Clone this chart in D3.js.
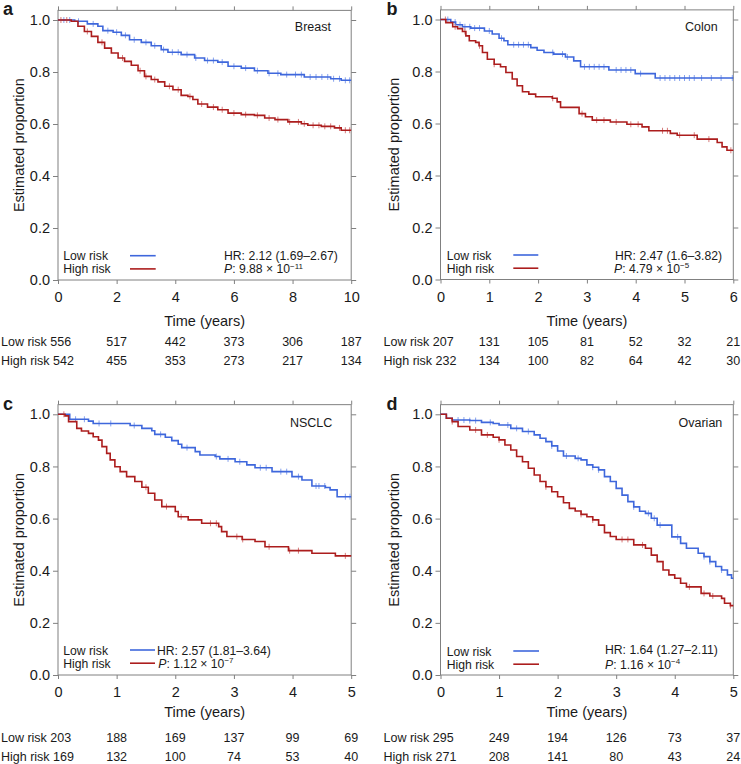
<!DOCTYPE html>
<html><head><meta charset="utf-8">
<script src="https://cdn.jsdelivr.net/npm/d3@7"></script>
<style>
body{margin:0;background:#fff}
svg{display:block}
text{font-family:"Liberation Sans",Arial,Helvetica,sans-serif;fill:#1a1a1a}
</style>
</head><body>
<svg id="chart" width="741" height="764"></svg>
<script>
// ---------------- DATA ----------------
const yTickValues = [0, 0.2, 0.4, 0.6, 0.8, 1.0];
const seriesNames = ["Low risk", "High risk"];

// Breast
const breastXTicks = [0, 2, 4, 6, 8, 10];
const breastLow = [[0,1],[0.57,0.995],[1.0,0.985],[1.36,0.976],[1.53,0.959],[1.88,0.953],[2.16,0.941],[2.44,0.924],[2.84,0.914],[3.18,0.901],[3.52,0.886],[3.75,0.876],[4.2,0.867],[4.66,0.854],[5.0,0.844],[5.45,0.838],[5.8,0.822],[6.25,0.815],[6.7,0.805],[7.16,0.795],[7.6,0.79],[8.4,0.781],[9.3,0.774],[9.66,0.768],[10,0.768]];
const breastHigh = [[0,1],[0.45,0.995],[0.68,0.976],[0.9,0.956],[1.14,0.937],[1.36,0.914],[1.59,0.892],[1.82,0.873],[2.05,0.854],[2.27,0.841],[2.5,0.826],[2.73,0.805],[2.95,0.783],[3.18,0.771],[3.41,0.762],[3.64,0.745],[3.92,0.732],[4.2,0.71],[4.43,0.706],[4.6,0.694],[4.77,0.677],[5.1,0.665],[5.45,0.655],[5.8,0.642],[6.25,0.636],[6.7,0.633],[7.05,0.623],[7.4,0.617],[7.84,0.608],[8.3,0.601],[8.52,0.595],[8.98,0.591],[9.43,0.585],[9.66,0.576],[10,0.576]];
const breastLowCens = [0.2,0.4,0.7,1.2,1.7,2.0,2.3,2.6,3.0,3.3,3.6,3.9,4.1,4.4,4.7,5.1,5.3,5.6,6.0,6.4,6.8,7.2,7.5,7.8,8.1,8.3,8.6,8.8,9.0,9.2,9.4,9.6,9.8,9.95];
const breastHighCens = [0.1,0.3,1.0,1.5,2.2,2.8,3.0,3.3,3.8,4.1,4.5,4.9,5.3,5.6,6.0,6.4,6.8,7.2,7.5,7.9,8.2,8.4,8.7,8.9,9.1,9.3,9.6,9.8,9.95];
const breastRiskLow = [556, 517, 442, 373, 306, 187];
const breastRiskHigh = [542, 455, 353, 273, 217, 134];

// Colon
const colonXTicks = [0, 1, 2, 3, 4, 5, 6];
const colonLow = [[0,1],[0.21,0.99],[0.31,0.98],[0.45,0.972],[0.62,0.967],[0.9,0.956],[1.06,0.944],[1.2,0.928],[1.3,0.918],[1.38,0.903],[1.85,0.892],[1.98,0.882],[2.12,0.873],[2.32,0.867],[2.56,0.856],[2.73,0.841],[2.87,0.818],[3.45,0.806],[3.99,0.792],[4.4,0.775],[6,0.775]];
const colonHigh = [[0,1],[0.11,0.988],[0.25,0.972],[0.35,0.965],[0.45,0.954],[0.52,0.937],[0.59,0.918],[0.72,0.912],[0.79,0.899],[0.86,0.873],[0.96,0.847],[1.1,0.828],[1.23,0.818],[1.34,0.796],[1.47,0.771],[1.57,0.745],[1.68,0.722],[1.81,0.713],[1.95,0.703],[2.29,0.697],[2.39,0.683],[2.46,0.662],[2.84,0.638],[2.97,0.626],[3.11,0.613],[3.48,0.606],[3.82,0.597],[4.13,0.587],[4.27,0.572],[4.71,0.562],[4.85,0.555],[5.26,0.54],[5.67,0.527],[5.77,0.51],[5.87,0.497],[6,0.497]];
const colonLowCens = [0.15,0.3,0.4,0.5,0.6,0.7,0.8,1.0,1.25,1.5,1.6,1.7,1.8,2.3,2.5,2.6,2.95,3.05,3.15,3.25,3.35,3.6,3.7,3.8,3.9,4.1,4.5,4.6,4.7,4.8,4.9,5.0,5.1,5.2,5.35,5.55,5.75,5.98];
const colonHighCens = [0.1,0.3,0.5,0.8,1.1,2.3,2.9,3.2,3.35,3.6,3.9,4.05,4.55,4.65,4.9,5.2,5.5,5.95];
const colonRiskLow = [207, 131, 105, 81, 52, 32, 21];
const colonRiskHigh = [232, 134, 100, 82, 64, 42, 30];

// NSCLC
const nsclcXTicks = [0, 1, 2, 3, 4, 5];
const nsclcLow = [[0,1],[0.2,0.981],[0.52,0.974],[0.6,0.965],[1.23,0.957],[1.43,0.946],[1.6,0.937],[1.65,0.923],[1.83,0.912],[1.94,0.899],[2.05,0.885],[2.11,0.872],[2.34,0.857],[2.42,0.844],[2.68,0.838],[2.76,0.829],[3.02,0.818],[3.22,0.806],[3.36,0.795],[3.65,0.78],[3.99,0.761],[4.16,0.748],[4.33,0.725],[4.56,0.719],[4.64,0.71],[4.76,0.684],[5,0.684]];
const nsclcHigh = [[0,1],[0.12,0.994],[0.18,0.972],[0.32,0.946],[0.4,0.936],[0.52,0.927],[0.6,0.914],[0.69,0.901],[0.75,0.876],[0.83,0.85],[0.89,0.825],[0.97,0.799],[1.06,0.78],[1.17,0.761],[1.31,0.742],[1.43,0.72],[1.54,0.697],[1.65,0.671],[1.77,0.646],[2.0,0.627],[2.05,0.607],[2.22,0.595],[2.45,0.582],[2.74,0.569],[2.79,0.55],[2.88,0.531],[3.14,0.52],[3.36,0.512],[3.53,0.492],[3.93,0.477],[4.33,0.467],[4.73,0.457],[5,0.457]];
const nsclcLowCens = [0.3,0.45,0.7,0.9,1.3,1.75,2.2,2.7,2.9,3.1,3.45,3.55,3.8,3.9,4.1,4.4,4.45,4.55,4.9,4.98];
const nsclcHighCens = [0.1,1.5,1.85,2.1,2.6,2.7,3.05,3.15,3.6,3.95,4.1,4.9];
const nsclcRiskLow = [203, 188, 169, 137, 99, 69];
const nsclcRiskHigh = [169, 132, 100, 74, 53, 40];

// Ovarian
const ovarianXTicks = [0, 1, 2, 3, 4, 5];
const ovarianLow = [[0,1],[0.1,0.985],[0.2,0.978],[0.5,0.976],[0.7,0.969],[0.9,0.965],[1.0,0.959],[1.2,0.946],[1.4,0.934],[1.6,0.921],[1.7,0.908],[1.8,0.895],[1.9,0.879],[2.0,0.859],[2.1,0.84],[2.3,0.831],[2.4,0.825],[2.5,0.806],[2.6,0.797],[2.7,0.787],[2.8,0.761],[2.9,0.742],[3.0,0.716],[3.1,0.69],[3.2,0.665],[3.3,0.645],[3.4,0.628],[3.5,0.62],[3.6,0.601],[3.7,0.575],[3.95,0.53],[4.1,0.505],[4.2,0.486],[4.4,0.467],[4.5,0.454],[4.6,0.435],[4.7,0.416],[4.8,0.403],[4.9,0.384],[4.97,0.371],[5,0.371]];
const ovarianHigh = [[0,1],[0.1,0.985],[0.2,0.972],[0.3,0.953],[0.5,0.94],[0.7,0.921],[0.9,0.912],[1.0,0.902],[1.1,0.882],[1.2,0.863],[1.3,0.838],[1.4,0.818],[1.5,0.793],[1.6,0.767],[1.7,0.742],[1.8,0.722],[1.9,0.703],[2.0,0.684],[2.1,0.661],[2.2,0.639],[2.3,0.629],[2.4,0.616],[2.5,0.607],[2.6,0.595],[2.7,0.575],[2.8,0.546],[2.9,0.531],[3.0,0.52],[3.3,0.499],[3.5,0.486],[3.6,0.46],[3.7,0.435],[3.8,0.403],[3.9,0.384],[4.0,0.371],[4.1,0.352],[4.2,0.338],[4.45,0.313],[4.6,0.303],[4.8,0.294],[4.85,0.275],[4.95,0.266],[5,0.266]];
const ovarianLowCens = [0.3,0.4,0.5,0.6,0.85,1.15,1.3,1.5,1.9,2.15,2.35,2.6,2.7,3.3,3.55,3.65,3.75,4.05,4.5,4.6,4.8];
const ovarianHighCens = [0.2,0.6,0.8,1.0,1.8,2.4,2.6,3.1,3.2,3.45,4.25,4.5,4.65,4.95];
const ovarianRiskLow = [295, 249, 194, 126, 73, 37];
const ovarianRiskHigh = [271, 208, 141, 80, 43, 24];

const panelNames = ["Breast", "Colon", "NSCLC", "Ovarian"];
const panelLetters = ["a", "b", "c", "d"];
const hrTexts = ["HR: 2.12 (1.69\u20132.67)", "HR: 2.47 (1.6\u20133.82)", "HR: 2.57 (1.81\u20133.64)", "HR: 1.64 (1.27\u20132.11)"];
const pMantissas = ["9.88", "4.79", "1.12", "1.16"];
const pExponents = ["\u221211", "\u22125", "\u22127", "\u22124"];

// ---------------- LAYOUT / STYLE ----------------
const COL_LOW = "#3e67dc", COL_HIGH = "#ac1d1d";
const CEN_LOW = "#86a2ee", CEN_HIGH = "#d67b7b";
const FRAME = "#808080";
const LEG_FS = "12.2px";

const panels = [
  {name:panelNames[0], letter:panelLetters[0], xTicks:breastXTicks, low:breastLow, high:breastHigh, lowC:breastLowCens, highC:breastHighCens, rLow:breastRiskLow, rHigh:breastRiskHigh, hr:hrTexts[0], pm:pMantissas[0], pe:pExponents[0],
   L:58, R:351.2, Y1:20, Y0:280, letterPos:[3,15], ylabX:23.7, nameXY:[331,30.7],
   leg:{tx:63.3, b1:260.2, b2:273.4, lx1:130, lx2:155.7, hx:224, pxx:224, hb:260.2, pb:273.4},
   tickB:301.5, timeB:325.7, row1:346, row2:365},
  {name:panelNames[1], letter:panelLetters[1], xTicks:colonXTicks, low:colonLow, high:colonHigh, lowC:colonLowCens, highC:colonHighCens, rLow:colonRiskLow, rHigh:colonRiskHigh, hr:hrTexts[1], pm:pMantissas[1], pe:pExponents[1],
   L:440.5, R:733.3, Y1:19.5, Y0:279.5, letterPos:[386.5,15], ylabX:398.7, nameXY:[717.7,30.7],
   leg:{tx:446.7, b1:259.5, b2:272.7, lx1:513.3, lx2:538.3, hx:615, pxx:614, hb:259.5, pb:272.7},
   tickB:301.5, timeB:325.7, row1:346, row2:365},
  {name:panelNames[2], letter:panelLetters[2], xTicks:nsclcXTicks, low:nsclcLow, high:nsclcHigh, lowC:nsclcLowCens, highC:nsclcHighCens, rLow:nsclcRiskLow, rHigh:nsclcRiskHigh, hr:hrTexts[2], pm:pMantissas[2], pe:pExponents[2],
   L:58, R:351.2, Y1:414.3, Y0:675, letterPos:[3,410], ylabX:23.7, nameXY:[332.3,426.7],
   leg:{tx:63.3, b1:654.5, b2:667.7, lx1:130, lx2:155, hx:157, pxx:158.3, hb:654.5, pb:667.7},
   tickB:696.7, timeB:716.5, row1:741.7, row2:760.7},
  {name:panelNames[3], letter:panelLetters[3], xTicks:ovarianXTicks, low:ovarianLow, high:ovarianHigh, lowC:ovarianLowCens, highC:ovarianHighCens, rLow:ovarianRiskLow, rHigh:ovarianRiskHigh, hr:hrTexts[3], pm:pMantissas[3], pe:pExponents[3],
   L:440.5, R:733.3, Y1:414.3, Y0:675, letterPos:[386.5,410], ylabX:398.7, nameXY:[722.3,426.7],
   leg:{tx:446.7, b1:655.5, b2:668.7, lx1:513.3, lx2:539, hx:605, pxx:605, hb:654, pb:668.7},
   tickB:696.7, timeB:716.5, row1:741.7, row2:760.7}
];

const svg = d3.select("#chart");
const TOPV = 1.037;

function stepValue(data, t){
  const i = d3.bisector(d => d[0]).right(data, t) - 1;
  return data[Math.max(0, i)][1];
}

panels.forEach(p => {
  const xMax = p.xTicks[p.xTicks.length - 1];
  const x = d3.scaleLinear().domain([0, xMax]).range([p.L, p.R]);
  const y = d3.scaleLinear().domain([0, 1]).range([p.Y0, p.Y1]);
  const g = svg.append("g");

  const yTop = y(TOPV);
  const axL = g.append("g").attr("transform", `translate(${p.L},0)`)
    .call(d3.axisLeft(y).tickValues(yTickValues).tickFormat(d3.format(".1f")).tickSize(5).tickSizeOuter(0).tickPadding(3));
  const axR = g.append("g").attr("transform", `translate(${p.R},0)`)
    .call(d3.axisRight(y).tickValues(yTickValues).tickFormat("").tickSize(5).tickSizeOuter(0));
  const axB = g.append("g").attr("transform", `translate(0,${p.Y0})`)
    .call(d3.axisBottom(x).tickValues(p.xTicks).tickFormat(d3.format("d")).tickSize(4).tickSizeOuter(0).tickPadding(3));
  const axT = g.append("g").attr("transform", `translate(0,${yTop})`)
    .call(d3.axisTop(x).tickValues(p.xTicks).tickFormat("").tickSize(4).tickSizeOuter(0));
  [axL, axR, axB, axT].forEach(a => {
    a.select(".domain").remove();
    a.selectAll(".tick line").attr("stroke", FRAME).attr("stroke-width", 1);
  });
  axL.selectAll(".tick text").attr("font-size", "14.5px").attr("fill", "#1a1a1a")
     .attr("font-family", '"Liberation Sans",Arial,sans-serif');
  axB.selectAll(".tick text").attr("font-size", "14.5px").attr("fill", "#1a1a1a")
     .attr("font-family", '"Liberation Sans",Arial,sans-serif')
     .attr("dy", null).attr("y", p.tickB - p.Y0);

  g.append("rect").attr("x", p.L).attr("y", yTop).attr("width", p.R - p.L).attr("height", p.Y0 - yTop)
    .attr("fill", "none").attr("stroke", FRAME).attr("stroke-width", 1);

  const line = d3.line().x(d => x(d[0])).y(d => y(d[1])).curve(d3.curveStepAfter);
  const drawSeries = (data, cens, col, ccol) => {
    g.append("g").selectAll("line").data(cens).join("line")
      .attr("x1", t => x(t)).attr("x2", t => x(t))
      .attr("y1", t => y(stepValue(data, t)) - 3).attr("y2", t => y(stepValue(data, t)) + 3)
      .attr("stroke", ccol).attr("stroke-width", 1);
    g.append("path").datum(data).attr("d", line).attr("fill", "none")
      .attr("stroke", col).attr("stroke-width", 1.6);
  };
  drawSeries(p.low, p.lowC, COL_LOW, CEN_LOW);
  drawSeries(p.high, p.highC, COL_HIGH, CEN_HIGH);

  g.append("text").attr("x", p.letterPos[0]).attr("y", p.letterPos[1]).text(p.letter)
    .attr("font-size", "18px").attr("font-weight", "bold").attr("fill", "#000");

  g.append("text").attr("x", p.nameXY[0]).attr("y", p.nameXY[1]).attr("text-anchor", "end")
    .attr("font-size", "12.5px").text(p.name);

  g.append("text").attr("transform", `translate(${p.ylabX},${(yTop + p.Y0) / 2}) rotate(-90)`)
    .attr("text-anchor", "middle").attr("font-size", "14.5px").text("Estimated proportion");

  g.append("text").attr("x", (p.L + p.R) / 2).attr("y", p.timeB).attr("text-anchor", "middle")
    .attr("font-size", "14.5px").text("Time (years)");

  const lg = p.leg;
  g.append("text").attr("x", lg.tx).attr("y", lg.b1).attr("font-size", LEG_FS).text(seriesNames[0]);
  g.append("text").attr("x", lg.tx).attr("y", lg.b2).attr("font-size", LEG_FS).text(seriesNames[1]);
  g.append("line").attr("x1", lg.lx1).attr("x2", lg.lx2).attr("y1", lg.b1 - 4.5).attr("y2", lg.b1 - 4.5)
    .attr("stroke", COL_LOW).attr("stroke-width", 1.6);
  g.append("line").attr("x1", lg.lx1).attr("x2", lg.lx2).attr("y1", lg.b2 - 4.5).attr("y2", lg.b2 - 4.5)
    .attr("stroke", COL_HIGH).attr("stroke-width", 1.6);
  g.append("text").attr("x", lg.hx).attr("y", lg.hb).attr("font-size", LEG_FS).text(p.hr);
  const pt = g.append("text").attr("x", lg.pxx).attr("y", lg.pb).attr("font-size", LEG_FS);
  pt.append("tspan").attr("font-style", "italic").text("P");
  pt.append("tspan").text(": " + p.pm + " \u00d7 10");
  pt.append("tspan").attr("font-size", "8px").attr("dy", "-4.5").text(p.pe);

  const rows = [[p.rLow, seriesNames[0], p.row1], [p.rHigh, seriesNames[1], p.row2]];
  rows.forEach(([vals, nm, by]) => {
    g.append("text").attr("x", p.L - 57).attr("y", by).attr("font-size", "12.5px").text(nm + " " + vals[0]);
    g.append("g").selectAll("text").data(vals.slice(1)).join("text")
      .attr("x", (d, i) => x(p.xTicks[i + 1])).attr("y", by).attr("text-anchor", "middle")
      .attr("font-size", "12.5px").text(d => d);
  });
});
</script>
</body></html>
